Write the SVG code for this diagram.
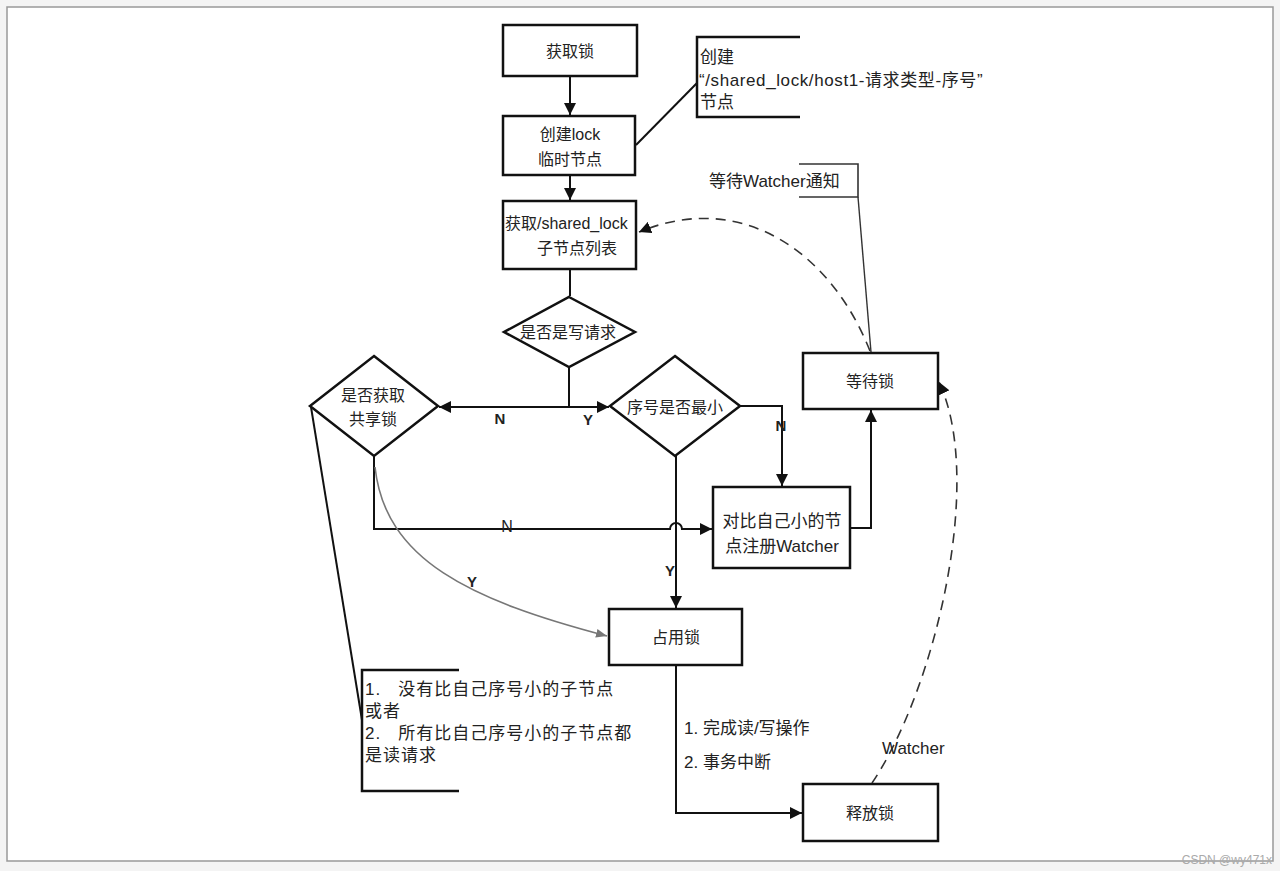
<svg xmlns="http://www.w3.org/2000/svg" width="1280" height="871" viewBox="0 0 1280 871">
<style>
.box{fill:#fff;stroke:#111;stroke-width:2.5}
.t{font-family:"Liberation Sans","Noto Sans CJK SC",sans-serif;font-size:16px;fill:#222}
.t17{font-family:"Liberation Sans","Noto Sans CJK SC",sans-serif;font-size:17px;fill:#222}
.c{text-anchor:middle}
.lb{font-family:"Liberation Sans",sans-serif;font-size:15px;font-weight:bold;fill:#222}
.ln{fill:none;stroke:#111;stroke-width:2}
.dash{fill:none;stroke:#333;stroke-width:1.6;stroke-dasharray:10 7}
</style>
<defs>
<marker id="arb" viewBox="0 0 10 10" refX="10" refY="5" markerWidth="12" markerHeight="12" orient="auto" markerUnits="userSpaceOnUse">
<path d="M0,0 L10,5 L0,10 z" fill="#111"/>
</marker>
<marker id="arg" viewBox="0 0 10 10" refX="10" refY="5" markerWidth="11" markerHeight="11" orient="auto" markerUnits="userSpaceOnUse">
<path d="M0,1 L10,5 L0,9 z" fill="#777"/>
</marker>
</defs>
<rect x="0" y="0" width="1280" height="871" fill="#f4f4f4"/>
<rect x="7" y="7" width="1266" height="854" fill="#fff" stroke="#999" stroke-width="1.5"/>
<text x="1272" y="864" font-family="Liberation Sans,sans-serif" font-size="12" fill="#aaa" text-anchor="end">CSDN @wy471x</text>

<g id="connectors">
<line class="ln" x1="570" y1="76" x2="570" y2="115" marker-end="url(#arb)"/>
<line class="ln" x1="570" y1="175" x2="570" y2="200" marker-end="url(#arb)"/>
<line class="ln" x1="570" y1="269" x2="570" y2="296"/>
<line class="ln" x1="569" y1="367" x2="569" y2="407"/>
<line class="ln" x1="569" y1="407" x2="439" y2="407" marker-end="url(#arb)"/>
<line class="ln" x1="569" y1="407" x2="609" y2="407" marker-end="url(#arb)"/>
<polyline class="ln" points="740,406 782,406 782,486" marker-end="url(#arb)"/>
<line class="ln" x1="676" y1="456" x2="676" y2="608" marker-end="url(#arb)"/>
<path class="ln" d="M374,456 L374,529 L670,529 A6,6 0 0 1 682,529 L712,529" marker-end="url(#arb)"/>
<polyline class="ln" points="850,528 871,528 871,410" marker-end="url(#arb)"/>
<polyline class="ln" points="676,666 676,813 802,813" marker-end="url(#arb)"/>
<path d="M375,467 C385,560 470,600 607,636" fill="none" stroke="#777" stroke-width="1.6" marker-end="url(#arg)"/>
<path class="dash" d="M870,351 C830,250 740,190 639,232" marker-end="url(#arb)"/>
<path class="dash" d="M872,783 C935,690 985,480 939,382" marker-end="url(#arb)"/>
<line x1="636" y1="145" x2="697" y2="83" stroke="#111" stroke-width="2"/>
<line x1="858" y1="197" x2="871" y2="352" stroke="#333" stroke-width="1.4"/>
<line x1="311" y1="407" x2="362" y2="720" stroke="#111" stroke-width="2"/>
</g>

<g id="n_get"><rect class="box" x="503" y="25" width="134" height="51"/><text class="t c" x="570" y="57">获取锁</text></g>
<g id="n_create"><rect class="box" x="503" y="116" width="132" height="59"/><text class="t c" x="570" y="140">创建lock</text><text class="t c" x="570" y="165">临时节点</text></g>
<g id="n_list"><rect class="box" x="503" y="201" width="133" height="68"/><text class="t" x="505" y="229">获取/shared_lock</text><text class="t c" x="577" y="254">子节点列表</text></g>
<g id="n_iswrite"><polygon class="box" points="569,297 635,332 569,367 504,332"/><text class="t c" x="568" y="338">是否是写请求</text></g>
<g id="n_shared"><polygon class="box" points="374,356 438,406 374,456 310,406"/><text class="t c" x="373" y="401">是否获取</text><text class="t c" x="373" y="425">共享锁</text></g>
<g id="n_min"><polygon class="box" points="675,356 740,406 675,456 610,406"/><text class="t c" x="675" y="413">序号是否最小</text></g>
<g id="n_wait"><rect class="box" x="803" y="353" width="135" height="56"/><text class="t c" x="870" y="387">等待锁</text></g>
<g id="n_watch"><rect class="box" x="713" y="487" width="137" height="81"/><text class="t17 c" x="782" y="527">对比自己小的节</text><text class="t17 c" x="782" y="552">点注册Watcher</text></g>
<g id="n_hold"><rect class="box" x="609" y="609" width="133" height="56"/><text class="t c" x="676" y="643">占用锁</text></g>
<g id="n_release"><rect class="box" x="803" y="784" width="135" height="57"/><text class="t c" x="870" y="819">释放锁</text></g>

<g id="a_create">
<polyline points="800,37 697,37 697,117 800,117" fill="none" stroke="#111" stroke-width="2.5"/>
<text class="t17" x="700" y="63">创建</text>
<text class="t17" x="699" y="86" letter-spacing="0.6">“/shared_lock/host1-请求类型-序号”</text>
<text class="t17" x="700" y="108">节点</text>
</g>
<g id="a_watch">
<polyline points="799,164 858,164 858,197 799,197" fill="none" stroke="#333" stroke-width="1.6"/>
<text class="t17" x="709" y="187">等待Watcher通知</text>
</g>
<g id="a_cond">
<polyline points="459,670 362,670 362,791 459,791" fill="none" stroke="#111" stroke-width="2.5"/>
<text class="t17" x="365" y="695" letter-spacing="1" xml:space="preserve">1.   没有比自己序号小的子节点</text>
<text class="t17" x="365" y="717" letter-spacing="1">或者</text>
<text class="t17" x="365" y="739" letter-spacing="1" xml:space="preserve">2.   所有比自己序号小的子节点都</text>
<text class="t17" x="365" y="761" letter-spacing="1">是读请求</text>
</g>

<g id="labels">
<text class="lb" x="500" y="424" text-anchor="middle">N</text>
<text class="lb" x="588" y="425" text-anchor="middle">Y</text>
<text class="lb" x="781" y="431" text-anchor="middle">N</text>
<text class="t c" x="507" y="532" font-size="15">N</text>
<text class="lb" x="670" y="576" text-anchor="middle">Y</text>
<text class="lb" x="472" y="587" text-anchor="middle">Y</text>
<text class="t17" x="684" y="734">1. 完成读/写操作</text>
<text class="t17" x="684" y="768">2. 事务中断</text>
<text class="t17" x="882" y="754" fill="#333">Watcher</text>
</g>
</svg>
